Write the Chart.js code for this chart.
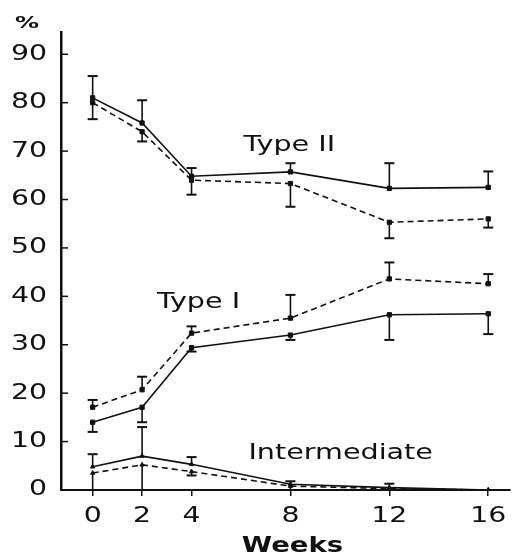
<!DOCTYPE html>
<html>
<head>
<meta charset="utf-8">
<script src="https://cdn.jsdelivr.net/npm/chart.js@4.4.0/dist/chart.umd.min.js"></script>
<style>
  html, body { margin: 0; padding: 0; background: #fff; }
</style>
</head>
<body>
<canvas id="fiberChart" width="515" height="557"></canvas>
<script>
// weeks on the x axis
const weeks = [0, 2, 4, 8, 12, 16];
const yTickValues = [0, 10, 20, 30, 40, 50, 60, 70, 80, 90];

// Type II (solid line, error bar up / dashed line, error bar down)
const type2Solid = [81, 75.8, 64.8, 65.7, 62.3, 62.5];
const type2SolidErr = [85.5, 80.5, 66.5, 67.5, 67.5, 65.8];
const type2Dashed = [80, 74, 64, 63.3, 55.3, 56];
const type2DashedErr = [76.6, 72, 61, 58.5, 52, 54.2];

// Type I
const type1Dashed = [17.1, 20.7, 32.4, 35.5, 43.6, 42.6];
const type1DashedErr = [18.6, 23.4, 33.8, 40.3, 47, 44.6];
const type1Solid = [14, 17.1, 29.4, 32, 36.2, 36.4];
const type1SolidErr = [12, 14, 28.6, 31, 31, 32.2];

// Intermediate
const interSolid = [4.8, 7, 5.3, 1.2, 0.5, 0];
const interSolidErr = [7.4, 13, 6.8, 1.8, 1.3, null];
const interDashed = [3.5, 5.2, 3.8, 0.8, 0.3, 0];
const interDashedErr = [0, 0, 3, 0, null, null];

const INK = "#111";
const FONT = "'DejaVu Sans'";

function makeSet(values, errs, dashed, style) {
  return {
    data: weeks.map((w, i) => ({ x: w, y: values[i] })),
    errEnds: errs,
    borderColor: INK,
    backgroundColor: INK,
    borderWidth: 1.6,
    borderDash: dashed ? [6, 4] : [],
    pointStyle: style,
    pointRadius: style === "triangle" ? 2.5 : 3,
    pointBorderWidth: 1,
    tension: 0,
  };
}

// the scanned figure has wide lettering, so text is stretched sideways
function wideText(ctx, text, x, y, align, sx) {
  ctx.save();
  ctx.translate(x, y);
  ctx.scale(sx, 1);
  ctx.textAlign = align;
  ctx.fillText(text, 0, 0);
  ctx.restore();
}

// vertical error bars with a T cap at the end value
const errorBars = {
  id: "errorBars",
  afterDatasetsDraw(chart) {
    const ctx = chart.ctx;
    const xs = chart.scales.x;
    const ys = chart.scales.y;
    ctx.save();
    ctx.strokeStyle = INK;
    chart.data.datasets.forEach((ds) => {
      ds.data.forEach((p, i) => {
        const e = ds.errEnds[i];
        if (e === null || e === undefined) return;
        const px = xs.getPixelForValue(p.x);
        const py = ys.getPixelForValue(p.y);
        const pe = ys.getPixelForValue(e);
        ctx.lineWidth = 1.6;
        ctx.beginPath();
        ctx.moveTo(px, py);
        ctx.lineTo(px, pe);
        ctx.stroke();
        ctx.lineWidth = 2;
        ctx.beginPath();
        ctx.moveTo(px - 5, pe);
        ctx.lineTo(px + 5, pe);
        ctx.stroke();
      });
    });
    ctx.restore();
  },
};

// inward y ticks, axis labels and the group names
const decorations = {
  id: "decorations",
  afterDraw(chart) {
    const ctx = chart.ctx;
    const xs = chart.scales.x;
    const ys = chart.scales.y;
    ctx.save();
    ctx.strokeStyle = INK;
    ctx.lineWidth = 1.5;
    yTickValues.forEach((v) => {
      const py = ys.getPixelForValue(v);
      ctx.beginPath();
      ctx.moveTo(xs.left, py);
      ctx.lineTo(xs.left + 7, py);
      ctx.stroke();
    });
    ctx.fillStyle = INK;
    ctx.textBaseline = "middle";

    ctx.font = "21px " + FONT;
    yTickValues.forEach((v) => {
      wideText(ctx, String(v), 47, ys.getPixelForValue(v), "right", 1.35);
    });
    weeks.forEach((w) => {
      wideText(ctx, String(w), xs.getPixelForValue(w), 517, "center", 1.35);
    });

    ctx.font = "bold 22px " + FONT;
    wideText(ctx, "Weeks", (xs.left + xs.right) / 2 + 7, 546, "center", 1.25);

    ctx.font = "bold 15px " + FONT;
    wideText(ctx, "%", 15, 24, "left", 1.6);

    ctx.font = "22px " + FONT;
    wideText(ctx, "Type II", xs.getPixelForValue(6.1), ys.getPixelForValue(71.2), "left", 1.3);
    wideText(ctx, "Type I", xs.getPixelForValue(2.6), ys.getPixelForValue(38.8), "left", 1.3);
    wideText(ctx, "Intermediate", xs.getPixelForValue(6.3), ys.getPixelForValue(7.6), "left", 1.3);
    ctx.restore();
  },
};

new Chart(document.getElementById("fiberChart"), {
  type: "line",
  data: {
    datasets: [
      makeSet(type2Solid, type2SolidErr, false, "rect"),
      makeSet(type2Dashed, type2DashedErr, true, "rect"),
      makeSet(type1Dashed, type1DashedErr, true, "rect"),
      makeSet(type1Solid, type1SolidErr, false, "rect"),
      makeSet(interSolid, interSolidErr, false, "triangle"),
      makeSet(interDashed, interDashedErr, true, "triangle"),
    ],
  },
  options: {
    responsive: false,
    animation: false,
    layout: { padding: { top: 32, right: 0, left: 0, bottom: 0 } },
    plugins: {
      legend: { display: false },
      tooltip: { enabled: false },
    },
    scales: {
      x: {
        type: "linear",
        min: -1.28,
        max: 16.88,
        afterFit(scale) { scale.height = 67; },
        afterBuildTicks(scale) {
          scale.ticks = weeks.map((w) => ({ value: w }));
        },
        grid: { drawOnChartArea: false, tickLength: 6, color: INK, lineWidth: 1.5 },
        border: { color: INK, width: 2 },
        ticks: { display: false },
      },
      y: {
        min: 0,
        max: 94.6,
        afterFit(scale) { scale.width = 61; },
        afterBuildTicks(scale) {
          scale.ticks = yTickValues.map((v) => ({ value: v }));
        },
        grid: { drawOnChartArea: false, drawTicks: false },
        border: { color: INK, width: 2.5 },
        ticks: { display: false },
      },
    },
  },
  plugins: [errorBars, decorations],
});
</script>
</body>
</html>
